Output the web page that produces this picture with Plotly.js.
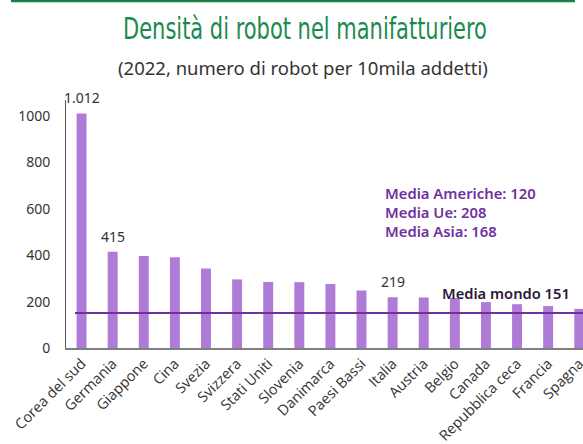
<!DOCTYPE html>
<html>
<head>
<meta charset="utf-8">
<script src="https://cdn.plot.ly/plotly-3.0.1.min.js"></script>
<style>html,body{margin:0;padding:0;background:#fff}#chart{width:583px;height:444px}</style>
</head>
<body>
<div id="chart"></div>
<script>
// ---- data ----
const countries = ["Corea del sud","Germania","Giappone","Cina","Svezia","Svizzera","Stati Uniti","Slovenia","Danimarca","Paesi Bassi","Italia","Austria","Belgio","Canada","Repubblica ceca","Francia","Spagna"];
const density = [1012, 415, 397, 392, 343, 296, 285, 284, 276, 248, 219, 218, 216, 198, 189, 181, 169];
const labelled = ["Corea del sud","Germania","Italia"];
const mediaMondo = 151;
const mediaNames = ["Media Americhe", "Media Ue", "Media Asia"];
const mediaValues = [120, 208, 168];
const yTicks = [0, 200, 400, 600, 800, 1000];

const fmtIt = v => String(v).replace(/\B(?=(\d{3})+(?!\d))/g, ".");

const purple = "#7030a0";
const barColor = "#ae7bd7";

const valueAnnotations = countries.map((c, i) => ({c, v: density[i]}))
  .filter(d => labelled.includes(d.c))
  .map(d => ({
    x: d.c, y: d.v, xref: "x", yref: "y",
    text: fmtIt(d.v), showarrow: false,
    yanchor: "bottom", yshift: 4,
    font: {family: "Noto Sans", size: 14, color: "#333"}
  }));

const mediaAnnotations = mediaNames.map((n, i) => ({
  x: (383 - 66) / 517, y: 0.55 + (1 - i) * 0.077, xref: "paper", yref: "paper",
  xanchor: "left", yanchor: "middle", showarrow: false,
  text: n + ": " + mediaValues[i],
  font: {family: "Noto Sans", size: 14.8, color: purple, weight: 600}
}));

const layout = {
  width: 583, height: 444,
  margin: {l: 66, r: 0, t: 100, b: 96},
  paper_bgcolor: "#fff", plot_bgcolor: "#fff",
  showlegend: false,
  bargap: 0.68,
  title: {
    text: "Densità di robot nel manifatturiero",
    font: {family: "DejaVu Sans Condensed, DejaVu Sans", size: 30, color: "#1b8a4f", weight: 300},
    xref: "container", yref: "container",
    x: 305 / 583, xanchor: "center",
    y: 1 - 29 / 444, yanchor: "middle"
  },
  xaxis: {
    type: "category",
    range: [-0.5, 16.12],
    showgrid: false, zeroline: false,
    showline: true, linecolor: "#808080", linewidth: 1.5,
    ticks: "",
    tickangle: -45,
    tickfont: {family: "Open Sans", size: 14.5, color: "#333"},
    fixedrange: true
  },
  yaxis: {
    range: [0, 1070],
    tickvals: yTicks,
    showgrid: false, zeroline: false,
    showline: true, linecolor: "#595959", linewidth: 1,
    ticks: "",
    ticklabelstandoff: 12,
    tickfont: {family: "Noto Sans", size: 14, color: "#333"},
    fixedrange: true
  },
  shapes: [
    {type: "rect", xref: "paper", yref: "paper",
     x0: (11 - 66) / 517, x1: (575 - 66) / 517,
     y0: (348 - 2.3) / 248, y1: 348 / 248,
     fillcolor: "#1a7f4b", line: {width: 0}},
    {type: "line", xref: "paper", yref: "y",
     x0: (75 - 66) / 517, x1: 1, y0: mediaMondo, y1: mediaMondo,
     line: {color: purple, width: 2}}
  ],
  annotations: [
    {x: (303 - 66) / 517, y: (348 - 67) / 248, xref: "paper", yref: "paper",
     text: "(2022, numero di robot per 10mila addetti)", showarrow: false,
     xanchor: "center", yanchor: "middle",
     font: {family: "Noto Sans", size: 18.5, color: "#333"}},
    ...mediaAnnotations,
    {x: (440 - 66) / 517, y: (348 - 293.3) / 248, xref: "paper", yref: "paper",
     xanchor: "left", yanchor: "middle", showarrow: false,
     text: "Media mondo " + mediaMondo,
     font: {family: "Noto Sans", size: 14.7, color: "#2b1838", weight: 600}},
    ...valueAnnotations
  ]
};

// The reference title uses a very narrow face: squeeze the real text horizontally to its width
function squeezeTitle(gd) {
  const t = gd.querySelector(".gtitle");
  if (!t) return;
  t.removeAttribute("transform");
  const bb = t.getBBox();
  const targetW = 364;
  if (bb.width <= 0) return;
  const s = Math.min(1, targetW / bb.width);
  const cx = bb.x + bb.width / 2;
  t.setAttribute("transform", `translate(${cx},0) scale(${s},1) translate(${-cx},0)`);
}

Plotly.newPlot("chart", [{
  type: "bar",
  x: countries, y: density,
  marker: {color: barColor, line: {width: 0}},
  hoverinfo: "x+y"
}], layout, {displayModeBar: false, staticPlot: true}).then(squeezeTitle);
</script>
</body>
</html>
